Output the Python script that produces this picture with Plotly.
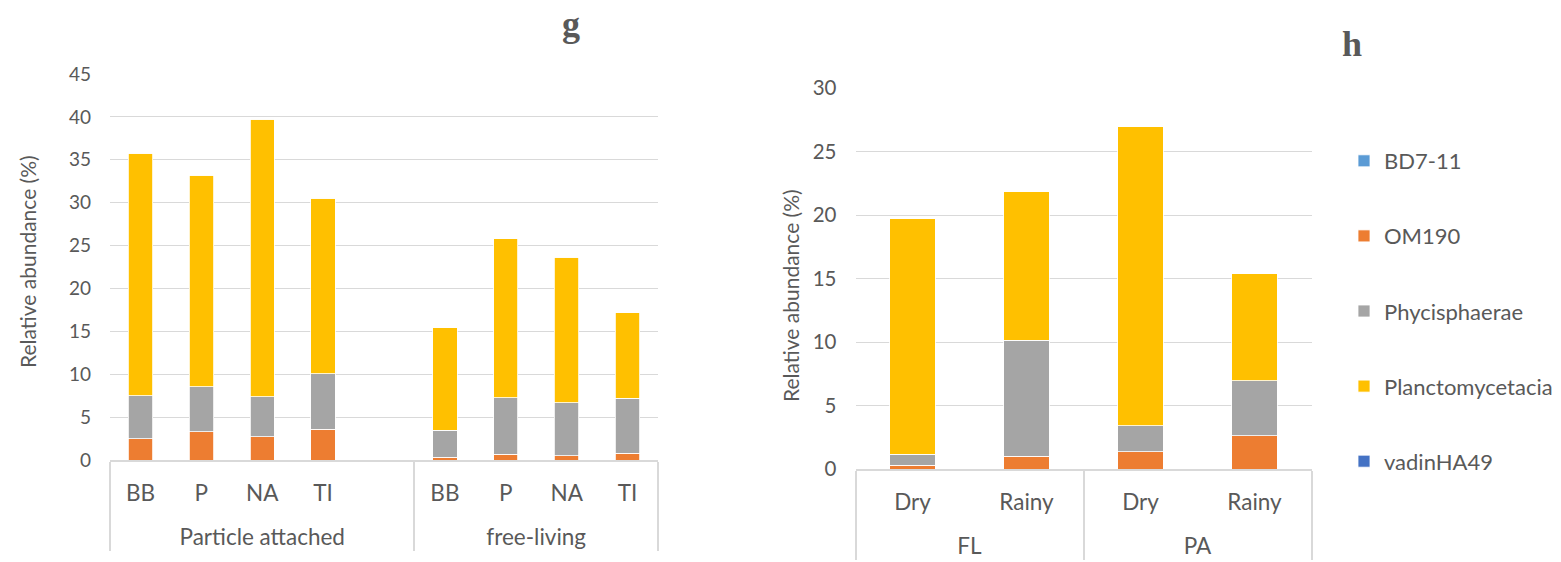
import plotly.graph_objects as go

# ---- data -------------------------------------------------------------
# panel g: fraction x site (empty slot between the two fractions)
g_fraction = ["Particle attached"] * 5 + ["free-living"] * 4
g_site = ["BB", "P", "NA", "TI", " ", "BB", "P", "NA", "TI"]
g_om190 = [2.5, 3.3, 2.7, 3.6, None, 0.3, 0.65, 0.5, 0.8]
g_phycisphaerae = [5.0, 5.25, 4.7, 6.45, None, 3.15, 6.6, 6.2, 6.4]
g_planctomycetacia = [28.25, 24.65, 32.35, 20.45, None, 11.95, 18.55, 16.95, 9.95]
g_bd7_11 = [0.15, 0.05, 0.1, 0.15, None, 0.05, 0.03, 0.03, 0.1]
g_vadinha49 = [0, 0, 0, 0, None, 0, 0, 0, 0]

# panel h: fraction x season
h_fraction = ["FL", "FL", "PA", "PA"]
h_season = ["Dry", "Rainy", "Dry", "Rainy"]
h_om190 = [0.31, 1.02, 1.36, 2.62]
h_phycisphaerae = [0.87, 9.11, 2.05, 4.33]
h_planctomycetacia = [18.51, 11.76, 23.52, 8.43]
h_bd7_11 = [0, 0, 0, 0]
h_vadinha49 = [0, 0, 0, 0]

g_ticks = [0, 5, 10, 15, 20, 25, 30, 35, 40, 45]
h_ticks = [0, 5, 10, 15, 20, 25, 30]

# ---- styling ------------------------------------------------------------
FONT = "Lato, 'Open Sans', sans-serif"
TEXT = "#595959"
GRID = "#D9D9D9"
W, H = 1561, 562
LABEL_PX = 22.5      # visible size of category labels
LEVEL_EM = 33        # em size that sets the offset of the label rows
GROUP_DROP = 15      # extra drop of the outer (group) label row, px


def lab(names, drop=0):
    """Category labels drawn at LABEL_PX, optionally lowered by `drop` px."""
    style = f"font-size:{LABEL_PX}px"
    if drop:
        style += f";baseline-shift:-{drop}px"
    return [f"<span style='{style}'>{n}</span>" for n in names]


g_x = [lab(g_fraction, GROUP_DROP), lab(g_site)]
h_x = [lab(h_fraction, GROUP_DROP), lab(h_season)]

# stacking order (bottom -> top) with legend rank
series = [
    ("OM190", "#ED7D31", g_om190, h_om190, 2),
    ("Phycisphaerae", "#A5A5A5", g_phycisphaerae, h_phycisphaerae, 3),
    ("Planctomycetacia", "#FFC000", g_planctomycetacia, h_planctomycetacia, 4),
    ("BD7-11", "#5B9BD5", g_bd7_11, h_bd7_11, 1),
    ("vadinHA49", "#4472C4", g_vadinha49, h_vadinha49, 5),
]

fig = go.Figure()
for name, color, gv, hv, rank in series:
    bar_marker = dict(color=color, line=dict(color="white", width=0.8))
    fig.add_trace(go.Bar(
        x=g_x, y=gv, name=name, legendgroup=name, legendrank=rank,
        marker=bar_marker, xaxis="x", yaxis="y", showlegend=True,
    ))
    fig.add_trace(go.Bar(
        x=h_x, y=hv, name=name, legendgroup=name, legendrank=rank,
        marker=bar_marker, xaxis="x2", yaxis="y2", showlegend=False,
    ))

axis_x = dict(
    type="multicategory", showgrid=False, ticks="", showline=True,
    linecolor=GRID, linewidth=1.5, showdividers=True, dividercolor=GRID,
    dividerwidth=1.5, tickfont=dict(family=FONT, size=LEVEL_EM, color=TEXT),
    fixedrange=True,
)
axis_y = dict(
    showgrid=True, gridcolor=GRID, gridwidth=1.3, zeroline=False,
    showline=False, ticks="", ticklabelstandoff=18,
    fixedrange=True,
)

fig.update_layout(
    width=W, height=H, barmode="stack", bargap=0.6,
    paper_bgcolor="white", plot_bgcolor="white",
    margin=dict(l=0, r=0, t=0, b=0, autoexpand=False),
    xaxis=dict(axis_x, domain=[110 / W, 658 / W], anchor="y"),
    yaxis=dict(axis_y, domain=[1 - 460 / H, 1 - 74 / H], range=[0, 45],
               tickvals=g_ticks, anchor="x",
               tickfont=dict(family=FONT, size=19, color=TEXT)),
    xaxis2=dict(axis_x, domain=[855.5 / W, 1311.5 / W], anchor="y2"),
    yaxis2=dict(axis_y, domain=[1 - 469 / H, 1 - 88 / H], range=[0, 30],
                tickvals=h_ticks, anchor="x2",
                tickfont=dict(family=FONT, size=20.5, color=TEXT)),
    legend=dict(
        x=1344 / W, xanchor="left", y=1 - 140 / H, yanchor="top",
        font=dict(family=FONT, size=22, color=TEXT),
        tracegroupgap=43.5, bgcolor="rgba(0,0,0,0)",
    ),
    showlegend=True,
)

annotations = [
    dict(text="<b>g</b>", x=571 / W, y=1 - 24 / H,
         font=dict(family="'Liberation Serif', serif", size=36, color=TEXT)),
    dict(text="<b>h</b>", x=1352 / W, y=1 - 44 / H,
         font=dict(family="'Liberation Serif', serif", size=36, color=TEXT)),
    dict(text="Relative abundance (%)", x=28 / W, y=1 - 262 / H, textangle=-90,
         font=dict(family=FONT, size=21, color=TEXT)),
    dict(text="Relative abundance (%)", x=790 / W, y=1 - 296 / H, textangle=-90,
         font=dict(family=FONT, size=21, color=TEXT)),
]
for a in annotations:
    a.update(xref="paper", yref="paper", showarrow=False,
             xanchor="center", yanchor="middle")
fig.update_layout(annotations=annotations)

fig.write_html("out.html")
